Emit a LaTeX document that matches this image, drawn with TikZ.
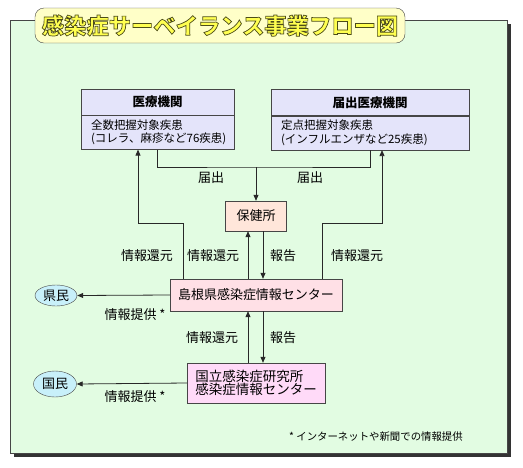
\documentclass[tikz,border=0pt]{standalone}
\usepackage{fontspec}
\setmainfont{Noto Sans CJK JP}
\usetikzlibrary{arrows.meta,positioning,shapes.geometric,shadows}
\definecolor{panelbg}{RGB}{226,252,226}
\definecolor{boxline}{RGB}{70,70,70}
\definecolor{linegray}{RGB}{40,40,40}
\definecolor{instbg}{RGB}{228,228,250}
\definecolor{hokenbg}{RGB}{255,230,218}
\definecolor{centerbg}{RGB}{255,224,230}
\definecolor{nihbg}{RGB}{255,218,248}
\definecolor{citizen}{RGB}{200,240,250}
\definecolor{titlebg}{RGB}{255,255,200}
\definecolor{titlefg}{RGB}{255,255,80}
\newcommand{\flowtitle}{感染症サーベイランス事業フロー図}
% outlined text: fill and stroke render mode
\newcommand{\outlined}[1]{\special{pdf:literal direct 2 Tr 0.7 w 0.3 0.3 0.1 RG}#1\special{pdf:literal direct 0 Tr 0 w}}

\begin{document}
\begin{tikzpicture}[
  x=1pt,y=-1pt,
  font=\fontsize{13}{15}\selectfont,
  line/.style={draw=linegray,line width=0.8pt},
  arr/.style={line,-{Triangle[length=6pt,width=5pt]}},
  hdrbox/.style={draw=boxline,fill=instbg,minimum height=26pt,inner sep=0pt,
                 font=\fontsize{12.5}{14}\selectfont\bfseries},
  bodybox/.style={draw=boxline,fill=instbg,minimum height=34pt,inner xsep=10pt,
                  inner ysep=0pt,align=left,font=\fontsize{11.5}{13.5}\selectfont},
  stnbox/.style={draw=boxline,inner sep=0pt,minimum height=30pt},
  ppl/.style={ellipse,draw=boxline,fill=citizen,inner sep=0pt},
  lbl/.style={inner sep=1pt}
]
\useasboundingbox (0,0) rectangle (523,467);
% panel and title
\node[draw=boxline,fill=panelbg,minimum width=497pt,minimum height=433pt,inner sep=0pt,
      drop shadow={shadow xshift=4pt,shadow yshift=-4pt,fill=black,opacity=0.8}]
      (panel) at (258.5,236.5) {};
\node[draw=boxline,fill=titlebg,rounded corners=9pt,minimum width=370pt,
      minimum height=35pt] (ttlbox) at (220,25.5) {};
\node[text=titlefg,font=\fontsize{22.3}{24}\selectfont\bfseries] (ttl)
  at (ttlbox.center) {\outlined{\flowtitle}};

% medical institutions
\node[hdrbox,minimum width=153pt] (iryoH) at (157.5,102) {医療機関};
\node[bodybox,text width=133pt,below=0pt of iryoH] (iryoB)
  {全数把握対象疾患\\(コレラ、麻疹など76疾患)};
\node[hdrbox,minimum width=198pt] (teitenH) at (370,102.5) {届出医療機関};
\node[bodybox,text width=178pt,below=0pt of teitenH] (teitenB)
  {定点把握対象疾患\\(インフルエンザなど25疾患)};

% centres
\node[stnbox,fill=hokenbg,minimum width=61pt] (hoken) at (256,216) {保健所};
\node[stnbox,fill=centerbg,minimum width=172pt,minimum height=32pt] (shimane)
  at (256,295) {島根県感染症情報センター};
\node[stnbox,fill=nihbg,minimum width=138pt,minimum height=40pt,align=left,
      font=\fontsize{13.5}{13.5}\selectfont] (nih) at (256,383)
  {国立感染症研究所\\感染症情報センター};
\node[ppl,minimum width=42pt,minimum height=21pt] (kenmin) at (56,295.5) {県民};
\node[ppl,minimum width=43pt,minimum height=26pt] (kokumin) at (55,384) {国民};

% connectors
\coordinate (todoke) at (256,167);
\coordinate (kanL) at (138,223);
\coordinate (kanR) at (382,223);
\draw[line] (iryoB.south) |- (todoke) -| (teitenB.south);
\draw[arr] (todoke) -- (hoken.north);
\draw[arr] ([xshift=-73pt]shimane.north) |- (kanL) -- (kanL |- iryoB.south);
\draw[arr] ([xshift=66pt]shimane.north) |- (kanR) -- (kanR |- teitenB.south);
\draw[arr] ([xshift=-8pt]shimane.north) -- ([xshift=-8pt]hoken.south);
\draw[arr] ([xshift=7pt]hoken.south) -- ([xshift=7pt]shimane.north);
\draw[arr] ([xshift=-8pt]nih.north) -- ([xshift=-8pt]shimane.south);
\draw[arr] ([xshift=7pt]shimane.south) -- ([xshift=7pt]nih.north);
\draw[arr] (shimane.west) -- (kenmin.east);
\draw[arr] (nih.west) -- (kokumin.east);

% labels
\node[lbl] (tdL) at (211,178) {届出};
\node[lbl] (tdR) at (310,178) {届出};
\node[lbl] (kgL) at (147,256) {情報還元};
\node[lbl] (kgM) at (213,256) {情報還元};
\node[lbl] (hkU) at (283,256) {報告};
\node[lbl] (kgR) at (357,256) {情報還元};
\node[lbl] (kgD) at (212,338) {情報還元};
\node[lbl] (hkD) at (283,338) {報告};
\node[lbl] (tkU) at (135,315) {情報提供 *};
\node[lbl] (tkD) at (135,397) {情報提供 *};
\node[lbl,font=\fontsize{10.4}{12}\selectfont] (note) at (376,437)
  {* インターネットや新聞での情報提供};
\end{tikzpicture}
\end{document}
